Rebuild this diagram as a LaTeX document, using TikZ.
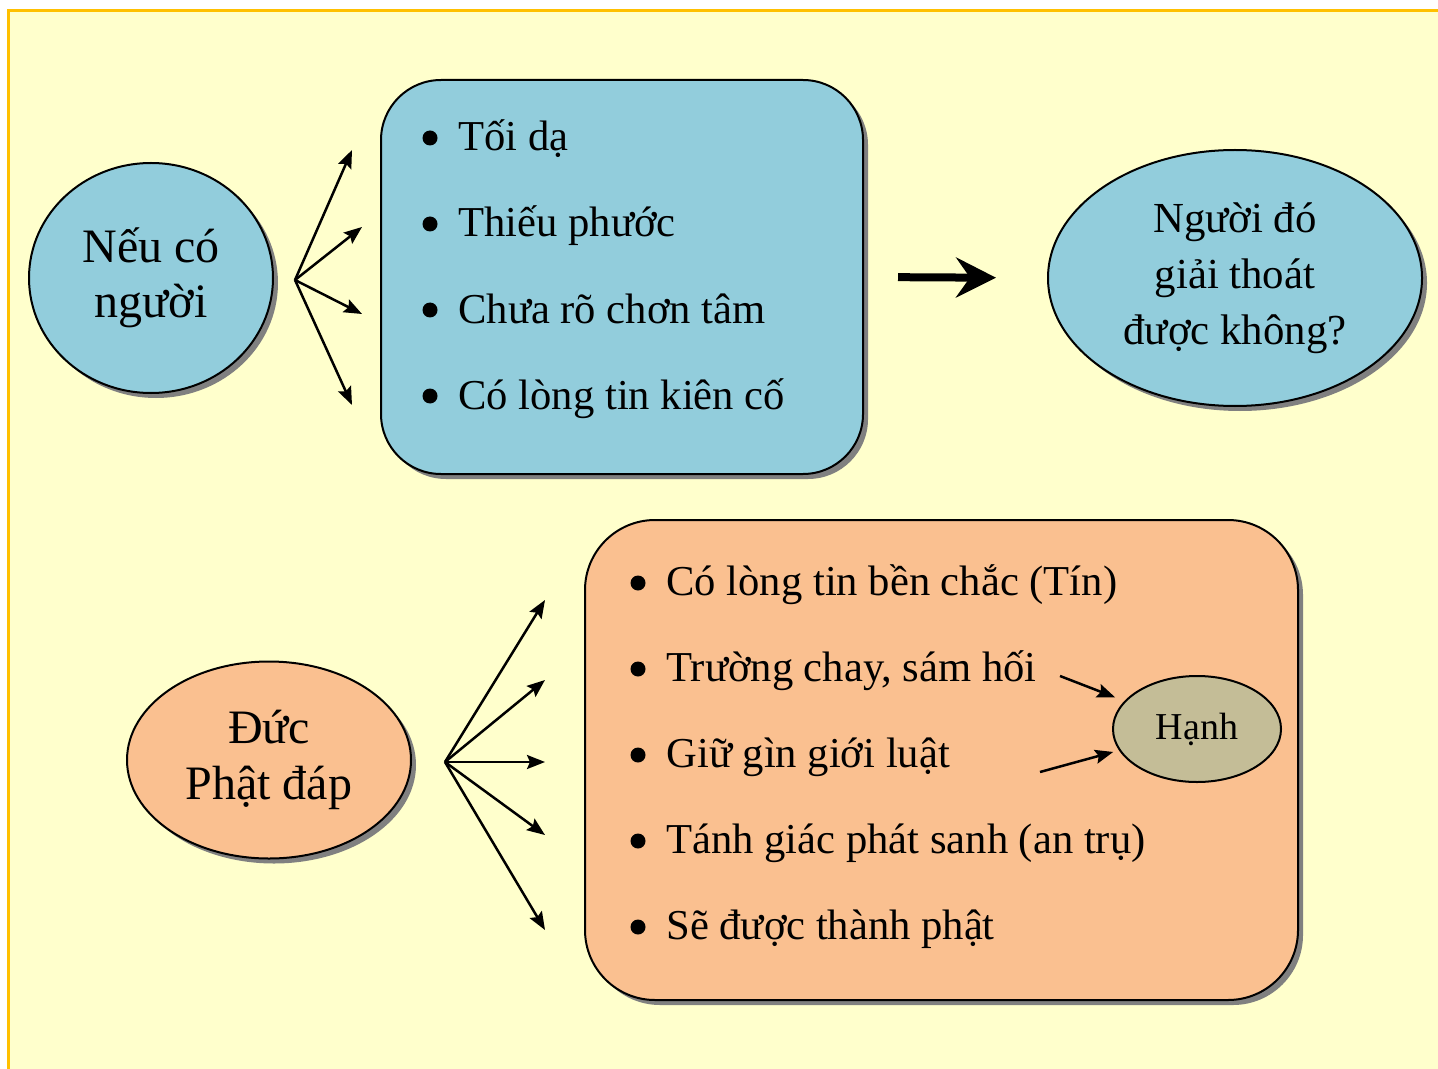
\documentclass[tikz,border=0pt]{standalone}
\usepackage{fontspec}
\setmainfont{Liberation Serif}
\usepackage{xcolor}
\usetikzlibrary{calc, shapes.geometric, positioning, shadows, arrows.meta}

\definecolor{nenvang}{RGB}{255,255,204}
\definecolor{vienvang}{RGB}{255,192,0}
\definecolor{xanhnhat}{RGB}{146,205,220}
\definecolor{camnhat}{RGB}{250,192,144}
\definecolor{nauxam}{RGB}{196,189,151}

\begin{document}
\begin{tikzpicture}[x=0.5pt, y=-0.5pt,
    >={Stealth[length=9pt, width=7pt, inset=1.5pt]},
    bong/.style={drop shadow={shadow xshift=2.5pt, shadow yshift=-2.5pt,
                 fill=black!50, opacity=1}},
    khung/.style={draw, line width=1pt, rounded corners=30pt, bong},
    oval/.style={ellipse, draw, line width=1pt, inner sep=0pt, align=center, bong},
    muc/.style={anchor=base west, inner sep=0pt, font=\fontsize{21.3}{25}\selectfont},
    nhanh/.style={->, line width=1.25pt},
    muiten/.style={line width=4pt, -{Stealth[length=20pt, width=20pt, inset=7pt]}}]

    % =================================================================
    % 1. NỀN VÀ KHUNG (kích thước theo điểm ảnh)
    % =================================================================
    \useasboundingbox (0,0) rectangle (1438,1069);
    \draw[fill=nenvang, draw=vienvang, line width=1.5pt] (8,11) rectangle (1450,1080);

    % =================================================================
    % 2. PHẦN TRÊN: NẾU CÓ NGƯỜI -> CÁC TRƯỜNG HỢP -> CÂU HỎI
    % =================================================================
    \node[oval, fill=xanhnhat, minimum width=122pt, minimum height=115pt,
          font=\fontsize{24}{27.5}\selectfont] (neuco) at (151,278) {Nếu có\\người};

    \node[khung, fill=xanhnhat, minimum width=241pt, minimum height=197pt] (boxA) at (622,277) {};

    \node[oval, fill=xanhnhat, minimum width=187pt, minimum height=128pt,
          font=\fontsize{21.4}{28}\selectfont] (ketqua) at (1235,278)
          {Người đó\\giải thoát\\được không?};

    % Các mũi tên tỏa ra
    \coordinate (goc1) at (295,280);
    \coordinate (m1) at (352,150);
    \coordinate (m2) at (362,227);
    \coordinate (m3) at (362,314);
    \coordinate (m4) at (352,405);
    \draw[nhanh] (goc1) -- (m1);
    \draw[nhanh] (goc1) -- (m2);
    \draw[nhanh] (goc1) -- (m3);
    \draw[nhanh] (goc1) -- (m4);

    % Danh sách trong khung xanh
    \fill (430,138) circle (7.5);
    \fill (430,224) circle (7.5);
    \fill (430,310) circle (7.5);
    \fill (430,396) circle (7.5);
    \node[muc] (a1) at (458,151) {Tối dạ};
    \node[muc] (a2) at (458,237) {Thiếu phước};
    \node[muc] (a3) at (458,323) {Chưa rõ chơn tâm};
    \node[muc] (a4) at (458,409) {Có lòng tin kiên cố};

    % Mũi tên lớn sang câu hỏi
    \draw[muiten, shorten <=17pt, shorten >=25.5pt] (boxA.east) -- (ketqua.west);

    % =================================================================
    % 3. PHẦN DƯỚI: ĐỨC PHẬT ĐÁP
    % =================================================================
    \node[oval, fill=camnhat, minimum width=142pt, minimum height=98.5pt,
          font=\fontsize{24}{28}\selectfont] (phatdap) at (269,760) {Đức\\Phật đáp};

    \node[khung, rounded corners=35pt, fill=camnhat, minimum width=356.5pt,
          minimum height=240pt] (boxB) at (941.5,760) {};

    \coordinate (goc2) at (445,762);
    \coordinate (n1) at (545,600);
    \coordinate (n2) at (545,680);
    \coordinate (n3) at (545,762);
    \coordinate (n4) at (545,835);
    \coordinate (n5) at (545,930);
    \draw[nhanh] (goc2) -- (n1);
    \draw[nhanh] (goc2) -- (n2);
    \draw[nhanh] (goc2) -- (n3);
    \draw[nhanh] (goc2) -- (n4);
    \draw[nhanh] (goc2) -- (n5);

    % Danh sách trong khung cam
    \fill (638,583) circle (7.5);
    \fill (638,669) circle (7.5);
    \fill (638,755) circle (7.5);
    \fill (638,841) circle (7.5);
    \fill (638,927) circle (7.5);
    \node[muc] (b1) at (666,595) {Có lòng tin bền chắc (Tín)};
    \node[muc] (b2) at (666,681) {Trường chay, sám hối};
    \node[muc] (b3) at (666,767) {Giữ gìn giới luật};
    \node[muc] (b4) at (666,853) {Tánh giác phát sanh (an trụ)};
    \node[muc] (b5) at (666,939) {Sẽ được thành phật};

    % Hạnh
    \node[ellipse, draw, line width=1pt, fill=nauxam, inner sep=0pt,
          minimum width=84pt, minimum height=53pt,
          font=\fontsize{19}{22}\selectfont] (hanh) at (1197,729) {Hạnh};
    \coordinate (h1) at (1060,676);
    \coordinate (h2) at (1040,772);
    \draw[nhanh, shorten >=5pt] (h1) -- (hanh);
    \draw[nhanh, shorten >=3pt] (h2) -- (hanh);

\end{tikzpicture}
\end{document}
